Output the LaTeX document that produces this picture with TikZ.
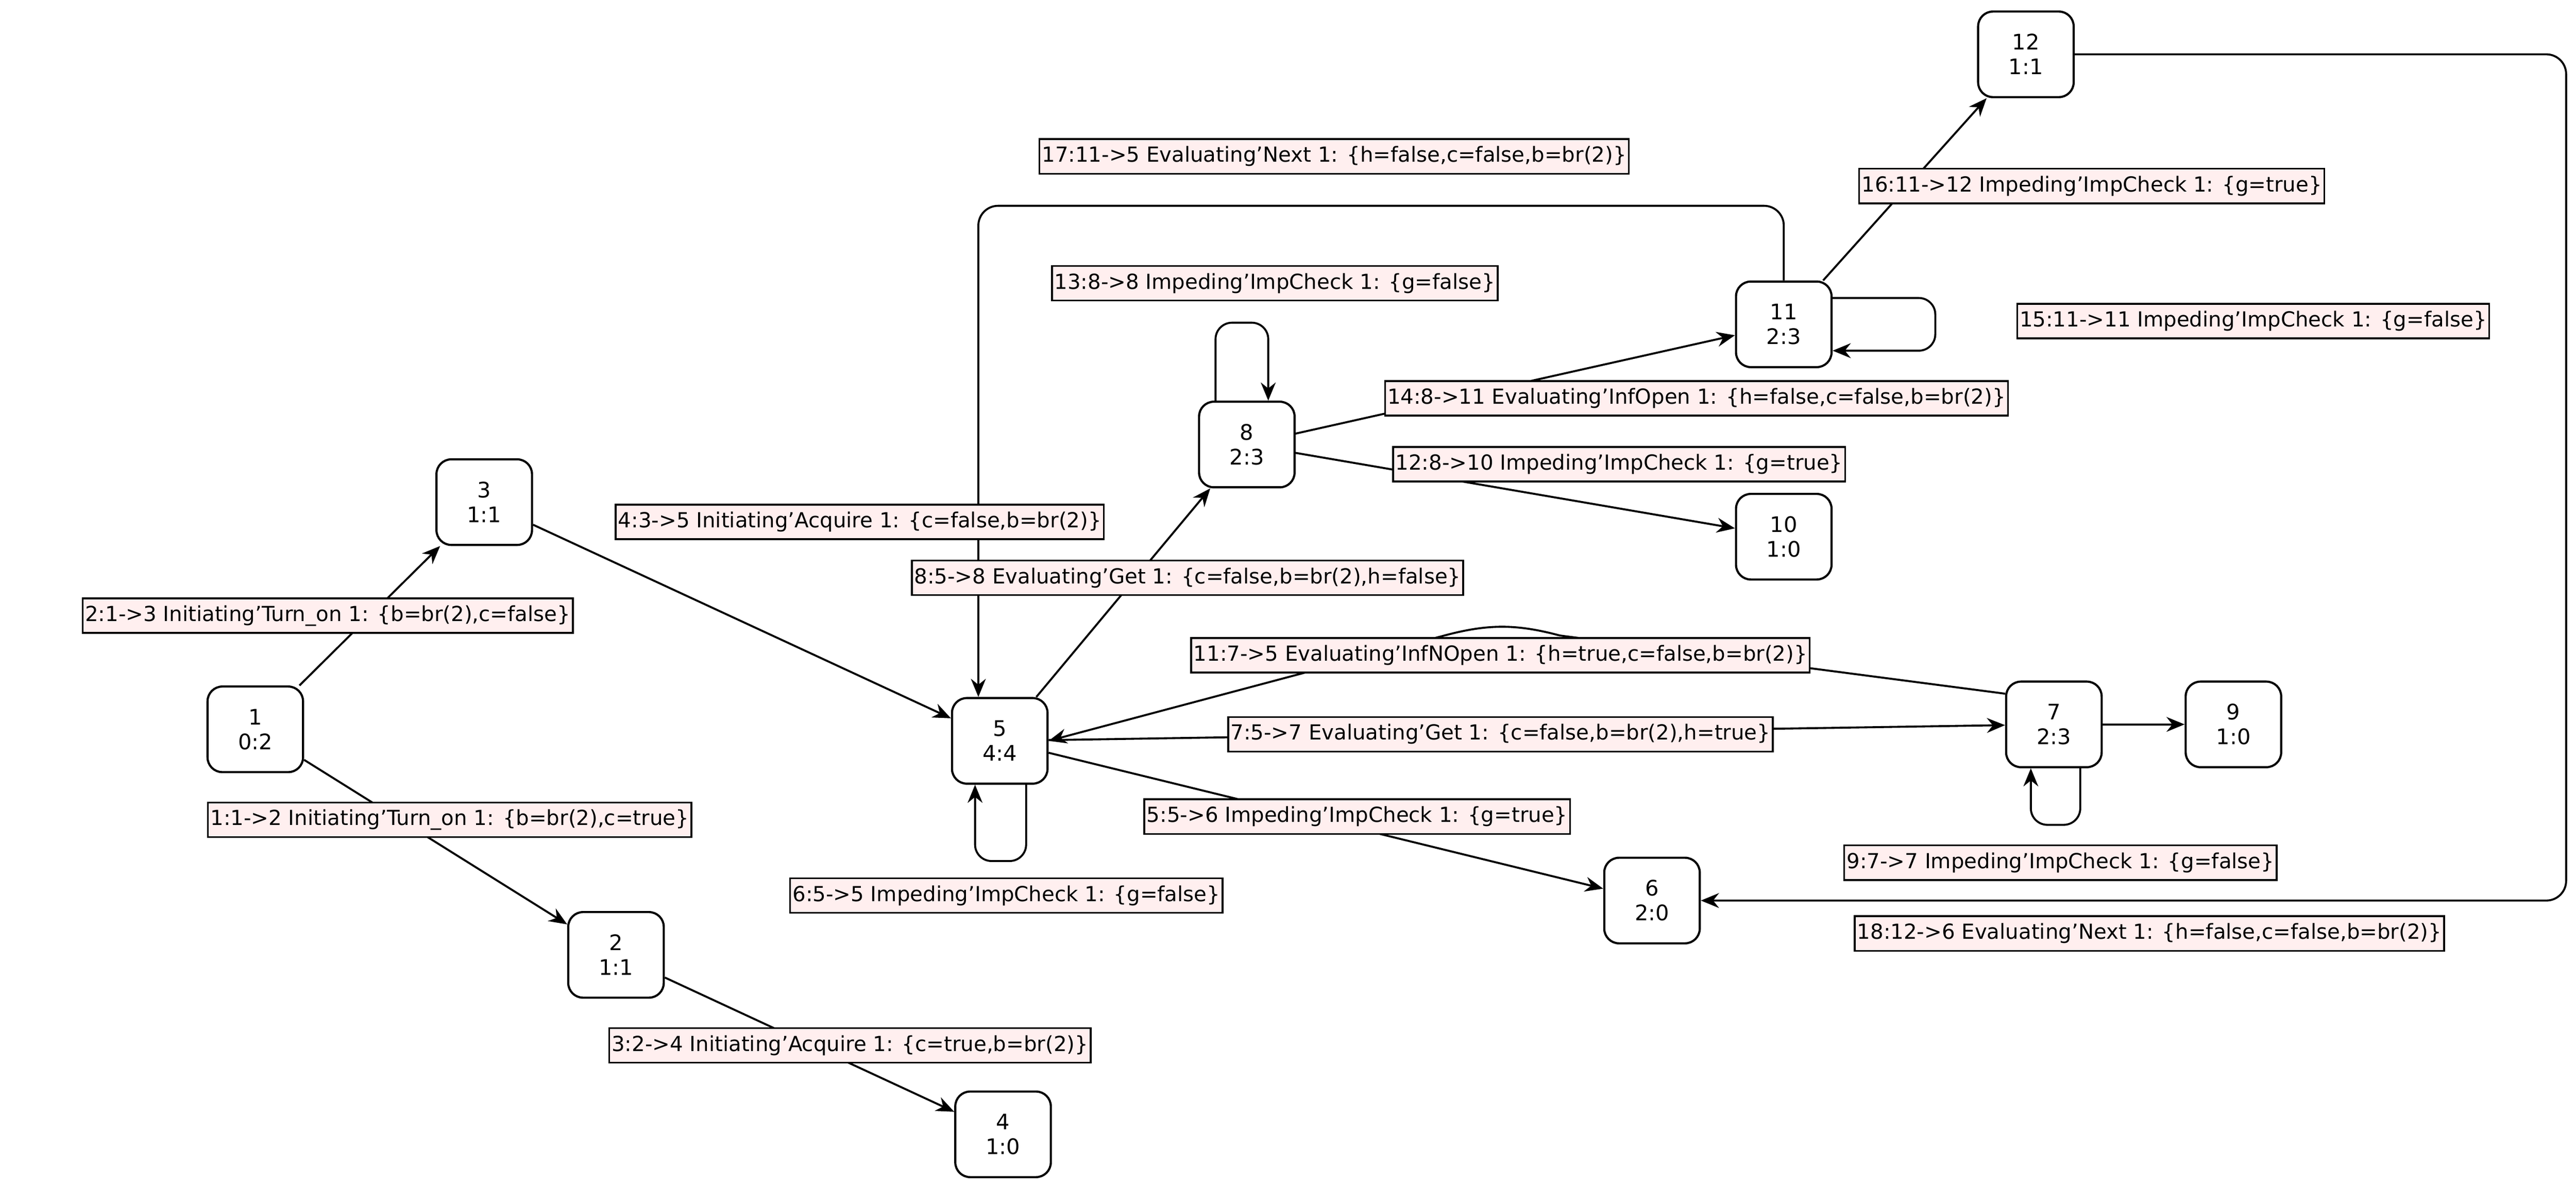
\documentclass[tikz,border=0pt]{standalone}
\usepackage{fontspec}
\setmainfont{DejaVu Sans}
\usetikzlibrary{arrows.meta}
\begin{document}
\begin{tikzpicture}[x=1pt,y=-1pt,
  st/.style={draw,line width=1.3pt,rounded corners=9pt,minimum width=58pt,minimum height=52pt,align=center,font=\fontsize{13}{15}\selectfont,fill=white,inner sep=0pt},
  lb/.style={draw,line width=1.1pt,fill=pink!25!white,font=\fontsize{12.6}{14}\selectfont,inner sep=1.5pt,minimum height=21pt},
  e/.style={line width=1.2pt,-{Stealth[length=11pt,width=9pt]}},
  p/.style={line width=1.2pt}]
\useasboundingbox (0,0) rectangle (1564,721);
\node[st] (n1) at (155,443) {1\\0:2};
\node[st] (n3) at (294,305) {3\\1:1};
\node[st] (n2) at (374,580) {2\\1:1};
\node[st] (n4) at (609,689) {4\\1:0};
\node[st] (n5) at (607,450) {5\\4:4};
\node[st] (n8) at (757,270) {8\\2:3};
\node[st] (n11) at (1083,197) {11\\2:3};
\node[st] (n10) at (1083,326) {10\\1:0};
\node[st] (n12) at (1230,33) {12\\1:1};
\node[st] (n7) at (1247,440) {7\\2:3};
\node[st] (n9) at (1356,440) {9\\1:0};
\node[st] (n6) at (1003,547) {6\\2:0};
\begin{scope}[on background layer/.style={}]
\draw[e] (n1) -- (n3);
\draw[e] (n1) -- (n2);
\draw[e] (n2) -- (n4);
\draw[e] (n3) -- (n5);
\draw[e] (n5) -- (n8);
\draw[e] (n8) -- (n11);
\draw[e] (n8) -- (n10);
\draw[e] (n11) -- (n12);
\draw[e] (n5) -- (n7);
\draw[e] (n5) -- (n6);
\draw[e] (n7) -- (n9);
\coordinate (h1) at (947,386);
\coordinate (h2) at (877,386);
\draw[e] (n7.north west) ++(0,8) -- (h1) to[out=165,in=15] (h2) -- (n5.east);
\coordinate (a1) at (1083,125);
\coordinate (a2) at (594,125);
\draw[e,rounded corners=12pt] (n11.north) -- (a1) -- (a2) -- (n5.north -| a2);
\coordinate (b1) at (1558,33);
\coordinate (b2) at (1558,547);
\draw[e,rounded corners=12pt] (n12.east) -- (b1) -- (b2) -- (n6.east);
\coordinate (l8a) at (738,196);
\coordinate (l8b) at (770,196);
\draw[e,rounded corners=10pt] (n8.north -| l8a) -- (l8a) -- (l8b) -- (n8.north -| l8b);
\coordinate (l11a) at (1175,181);
\coordinate (l11b) at (1175,213);
\draw[e,rounded corners=10pt] (n11.east |- l11a) -- (l11a) -- (l11b) -- (n11.east |- l11b);
\coordinate (l5a) at (623,523);
\coordinate (l5b) at (592,523);
\draw[e,rounded corners=10pt] (n5.south -| l5a) -- (l5a) -- (l5b) -- (n5.south -| l5b);
\coordinate (l7a) at (1263,501);
\coordinate (l7b) at (1233,501);
\draw[e,rounded corners=10pt] (n7.south -| l7a) -- (l7a) -- (l7b) -- (n7.south -| l7b);
\end{scope}
\node[lb] (t2) at (199,374) {2:1->3 Initiating'Turn\_on 1: \{b=br(2),c=false\}};
\node[lb] (t1) at (273,498) {1:1->2 Initiating'Turn\_on 1: \{b=br(2),c=true\}};
\node[lb] (t3) at (516,635) {3:2->4 Initiating'Acquire 1: \{c=true,b=br(2)\}};
\node[lb] (t4) at (522,317) {4:3->5 Initiating'Acquire 1: \{c=false,b=br(2)\}};
\node[lb] (t8) at (721,351) {8:5->8 Evaluating'Get 1: \{c=false,b=br(2),h=false\}};
\node[lb] (t6) at (611,544) {6:5->5 Impeding'ImpCheck 1: \{g=false\}};
\node[lb] (t13) at (774,172) {13:8->8 Impeding'ImpCheck 1: \{g=false\}};
\node[lb] (t17) at (810,95) {17:11->5 Evaluating'Next 1: \{h=false,c=false,b=br(2)\}};
\node[lb] (t14) at (1030,242) {14:8->11 Evaluating'InfOpen 1: \{h=false,c=false,b=br(2)\}};
\node[lb] (t12) at (983,282) {12:8->10 Impeding'ImpCheck 1: \{g=true\}};
\node[lb] (t16) at (1270,113) {16:11->12 Impeding'ImpCheck 1: \{g=true\}};
\node[lb] (t15) at (1368,195) {15:11->11 Impeding'ImpCheck 1: \{g=false\}};
\node[lb] (t11) at (911,398) {11:7->5 Evaluating'InfNOpen 1: \{h=true,c=false,b=br(2)\}};
\node[lb] (t7) at (911,446) {7:5->7 Evaluating'Get 1: \{c=false,b=br(2),h=true\}};
\node[lb] (t5) at (824,496) {5:5->6 Impeding'ImpCheck 1: \{g=true\}};
\node[lb] (t9) at (1251,524) {9:7->7 Impeding'ImpCheck 1: \{g=false\}};
\node[lb] (t18) at (1305,567) {18:12->6 Evaluating'Next 1: \{h=false,c=false,b=br(2)\}};
\end{tikzpicture}
\end{document}
